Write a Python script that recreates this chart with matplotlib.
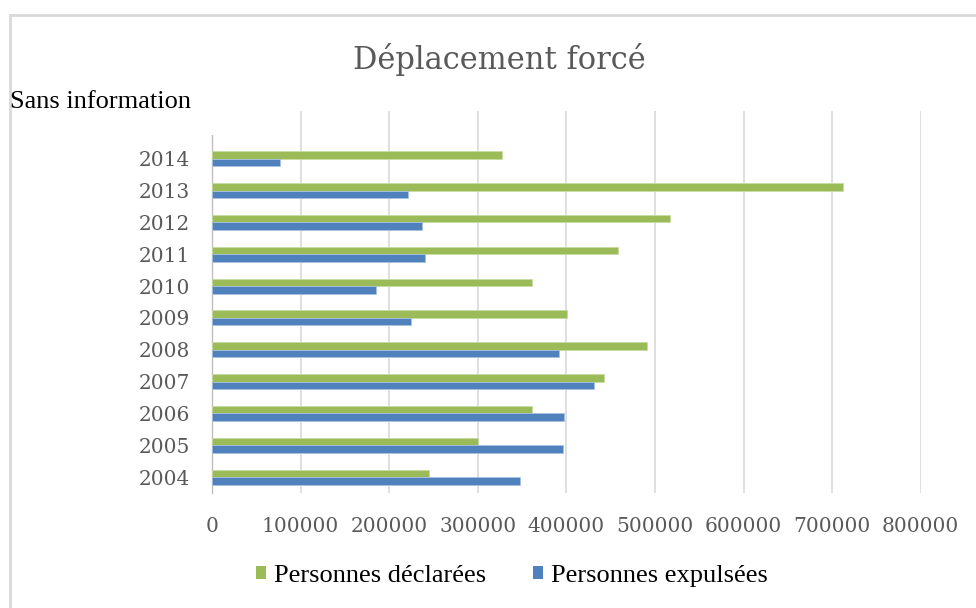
import matplotlib
matplotlib.use("Agg")
import matplotlib.pyplot as plt
from matplotlib.patches import Rectangle, Patch
from matplotlib.lines import Line2D
import numpy as np

years = ["2004", "2005", "2006", "2007", "2008", "2009", "2010", "2011", "2012", "2013", "2014"]
declarees = [245000, 300000, 360700, 442000, 491300, 400900, 360700, 457800, 517200, 712600, 327500]
expulsees = [347800, 395700, 396800, 431400, 391200, 224700, 185600, 240500, 237600, 221800, 77200]
xticks = [0, 100000, 200000, 300000, 400000, 500000, 600000, 700000, 800000]

title = "Déplacement forcé"
label_decl = "Personnes déclarées"
label_expu = "Personnes expulsées"
note = "Sans information"

GREEN = "#9BBB59"
BLUE = "#4F81BD"
GREY_TXT = "#595959"
GRID = "#D9D9D9"

W, H = 976, 608
fig = plt.figure(figsize=(W / 100, H / 100), dpi=100)
fig.patch.set_facecolor("white")

ax = fig.add_axes([212 / W, 1 - 493 / H, (920.7 - 212) / W, (493 - 111) / H])
y = np.arange(len(years))
bh = 0.236
ax.barh(y + bh / 2, declarees, height=bh, color=GREEN, edgecolor="#C9DBA5", linewidth=0.6, zorder=3)
ax.barh(y - bh / 2, expulsees, height=bh, color=BLUE, edgecolor="#A9C0DE", linewidth=0.6, zorder=3)

ax.set_xlim(0, 800000)
ax.set_ylim(-0.5, len(years) + 0.5)
ax.set_yticks(y)
ax.set_yticklabels(years)
ax.set_xticks(xticks)
ax.set_xticklabels([str(v) for v in xticks])
ax.tick_params(axis="y", length=0, pad=16, labelsize=14.5, labelcolor=GREY_TXT)
ax.tick_params(axis="x", length=0, pad=17, labelsize=14.5, labelcolor=GREY_TXT)
for lab in ax.get_xticklabels() + ax.get_yticklabels():
    lab.set_family("DejaVu Serif")
ax.xaxis.grid(True, color=GRID, linewidth=1.2, zorder=0)
ax.set_axisbelow(True)
for s in ["top", "right", "bottom"]:
    ax.spines[s].set_visible(False)
ax.spines["left"].set_color("#BFBFBF")
ax.spines["left"].set_linewidth(1.0)

# chart frame (top and left borders)
fig.add_artist(Line2D([10.3 / W, 1.0], [1 - 14.7 / H, 1 - 14.7 / H], transform=fig.transFigure,
                      color="#D9D9D9", linewidth=2))
fig.add_artist(Line2D([10.3 / W, 10.3 / W], [0, 1 - 14.7 / H], transform=fig.transFigure,
                      color="#D9D9D9", linewidth=2))

fig.text(499 / W, 1 - 60 / H, title, ha="center", va="center", fontsize=22,
         color=GREY_TXT, family="DejaVu Serif")

# white box with note
fig.add_artist(Rectangle((11.5 / W, 1 - 135 / H), (214 - 11.5) / W, (135 - 84) / H,
                         transform=fig.transFigure, facecolor="white", edgecolor="none", zorder=5))
fig.text(10 / W, 1 - 102 / H, note, ha="left", va="center", fontsize=19,
         family="Liberation Serif", color="black", zorder=6)

handles = [Patch(facecolor=GREEN, edgecolor="none"), Patch(facecolor=BLUE, edgecolor="none")]
fig.legend(handles, [label_decl, label_expu], loc="center", bbox_to_anchor=(512 / W, 1 - 576 / H),
           ncol=2, frameon=False, prop={"family": "Liberation Serif", "size": 19},
           handlelength=0.38, handleheight=0.38, handletextpad=0.3, columnspacing=1.8)

fig.savefig("out.png", dpi=100, facecolor="white")
